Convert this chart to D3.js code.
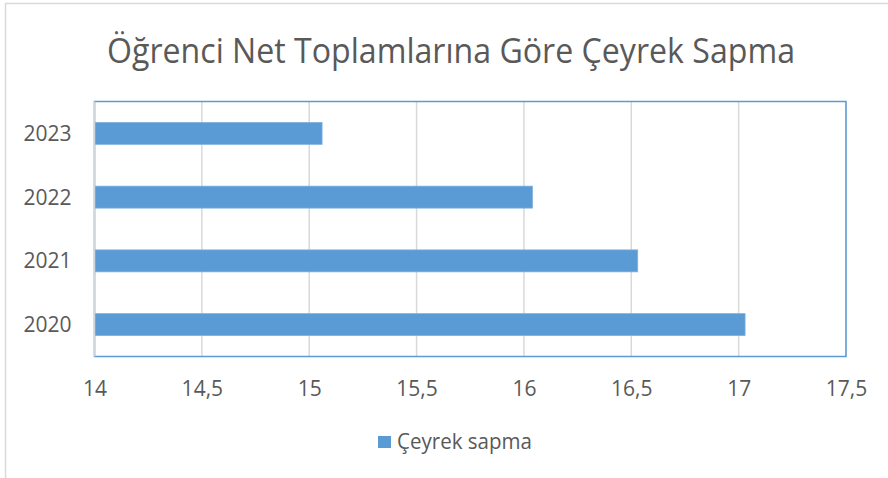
<!DOCTYPE html>
<html><head><meta charset="utf-8">
<script src="https://cdn.jsdelivr.net/npm/d3@7"></script>
<style>body{margin:0;background:#fff}svg{display:block}text{font-family:"Open Sans",sans-serif;fill:#595959}</style>
</head><body>
<svg id="c" width="888" height="478"></svg>
<script>
const title = "Öğrenci Net Toplamlarına Göre Çeyrek Sapma";
const categories = ["2023", "2022", "2021", "2020"];
const values = [15.06, 16.04, 16.53, 17.03];
const seriesName = "Çeyrek sapma";
const xTicks = [14, 14.5, 15, 15.5, 16, 16.5, 17, 17.5];
const xTickLabels = ["14", "14,5", "15", "15,5", "16", "16,5", "17", "17,5"];

const svg = d3.select("#c");
const m = {left: 94.5, right: 846, top: 101.5, bottom: 356.5};
const blue = "#5b9bd5";

svg.append("rect").attr("x", 5.5).attr("y", 3.5).attr("width", 900).attr("height", 500)
  .attr("fill", "#fff").attr("stroke", "#d9d9d9").attr("stroke-width", 1.5);

const x = d3.scaleLinear().domain([14, 17.5]).range([m.left, m.right]);
const y = d3.scaleBand().domain(categories).range([m.top, m.bottom]).paddingInner(0.655).paddingOuter(0.3275);

// gridlines
svg.append("g").selectAll("line").data(xTicks).join("line")
  .attr("x1", d => x(d)).attr("x2", d => x(d)).attr("y1", m.top).attr("y2", m.bottom)
  .attr("stroke", "#d9d9d9").attr("stroke-width", 1.5);

// bars
svg.append("g").selectAll("rect").data(values).join("rect")
  .attr("x", x(14)).attr("y", (d, i) => y(categories[i]))
  .attr("width", d => x(d) - x(14)).attr("height", y.bandwidth())
  .attr("fill", blue).attr("stroke", "#7fb1df").attr("stroke-width", 0.75);

// plot border
svg.append("rect").attr("x", m.left).attr("y", m.top).attr("width", m.right - m.left).attr("height", m.bottom - m.top)
  .attr("fill", "none").attr("stroke", blue).attr("stroke-width", 1.5);
svg.append("line").attr("x1", m.left).attr("x2", m.left).attr("y1", m.top).attr("y2", m.bottom)
  .attr("stroke", "#d0d5dd").attr("stroke-width", 1.5);

// x axis labels
const xAxis = d3.axisBottom(x).tickValues(xTicks).tickFormat((d, i) => xTickLabels[i]).tickSize(0).tickPadding(0);
const gx = svg.append("g").attr("transform", `translate(0,${m.bottom})`).call(xAxis);
gx.select(".domain").remove();
gx.selectAll("text").attr("dy", null).attr("y", 39.5).style("font-size", "21px").style("fill", "#595959");

// y axis labels
const yAxis = d3.axisLeft(y).tickSize(0).tickPadding(0);
const gy = svg.append("g").attr("transform", `translate(${m.left},0)`).call(yAxis);
gy.select(".domain").remove();
gy.selectAll("text").attr("x", -23).attr("dy", "0.36em").style("font-size", "21px").style("fill", "#595959");

// title
svg.append("text").attr("x", 451).attr("y", 63).attr("text-anchor", "middle")
  .attr("textLength", 688).attr("lengthAdjust", "spacingAndGlyphs")
  .style("font-size", "34px").text(title);

// legend
svg.append("rect").attr("x", 378).attr("y", 436).attr("width", 13).attr("height", 12).attr("fill", blue);
svg.append("text").attr("x", 397).attr("y", 448.5).attr("textLength", 135).attr("lengthAdjust", "spacingAndGlyphs")
  .style("font-size", "21px").text(seriesName);
</script>
</body></html>
